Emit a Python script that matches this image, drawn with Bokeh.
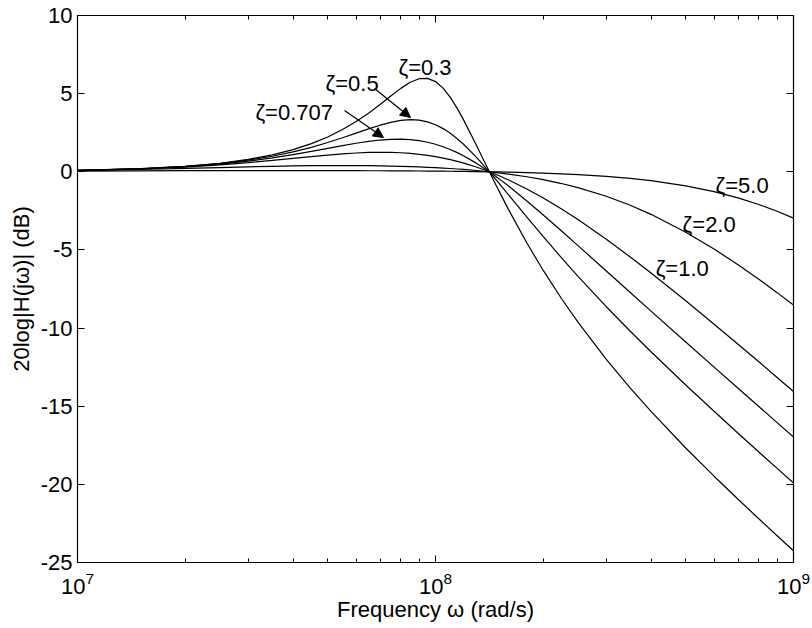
from bokeh.plotting import figure
from bokeh.models import (Range1d, FixedTicker, LogAxis, LinearAxis, Label,
                          Arrow, NormalHead, LogTickFormatter)
from bokeh.embed import file_html
from bokeh.resources import INLINE

FONT = "Liberation Sans"
FS = "22px"

# ---------------- data ----------------
freq = [1.0e7, 1.5e7, 2.0e7, 2.5e7, 3.0e7, 3.5e7, 4.0e7, 4.5e7, 5.0e7, 5.5e7,
        6.0e7, 6.5e7, 7.0e7, 7.5e7, 8.0e7, 8.5e7, 9.0e7, 9.5e7, 1.0e8, 1.05e8,
        1.1e8, 1.15e8, 1.2e8, 1.3e8, 1.414e8, 1.5e8, 1.6e8, 1.8e8, 2.0e8, 2.25e8,
        2.5e8, 3.0e8, 3.5e8, 4.0e8, 5.0e8, 6.0e8, 7.0e8, 8.0e8, 9.0e8, 1.0e9]

db_z03 = [0.087, 0.196, 0.349, 0.547, 0.791, 1.081, 1.417, 1.800, 2.229, 2.701,
          3.212, 3.752, 4.306, 4.847, 5.337, 5.726, 5.956, 5.979, 5.772, 5.351,
          4.761, 4.056, 3.289, 1.712, 0.0, -1.175, -2.421, -4.555, -6.313, -8.124,
          -9.625, -12.003, -13.840, -15.332, -17.672, -19.478, -20.954, -22.203, -23.288, -24.247]
db_z05 = [0.086, 0.193, 0.340, 0.526, 0.745, 0.996, 1.271, 1.566, 1.871, 2.177,
          2.473, 2.745, 2.981, 3.165, 3.286, 3.333, 3.303, 3.193, 3.010, 2.762,
          2.461, 2.117, 1.743, 0.941, 0.0, -0.693, -1.470, -2.895, -4.150, -5.511,
          -6.688, -8.633, -10.202, -11.516, -13.639, -15.325, -16.727, -17.928, -18.978, -19.914]
db_z0707 = [0.085, 0.189, 0.327, 0.495, 0.684, 0.887, 1.096, 1.302, 1.498, 1.674,
            1.826, 1.947, 2.032, 2.080, 2.088, 2.059, 1.992, 1.892, 1.761, 1.604,
            1.424, 1.225, 1.012, 0.553, 0.0, -0.423, -0.914, -1.867, -2.762, -3.791,
            -4.724, -6.351, -7.726, -8.914, -10.890, -12.496, -13.850, -15.019, -16.049, -16.969]
db_z10 = [0.084, 0.181, 0.304, 0.443, 0.587, 0.728, 0.859, 0.975, 1.072, 1.148,
          1.203, 1.237, 1.249, 1.242, 1.218, 1.176, 1.120, 1.051, 0.969, 0.877,
          0.776, 0.667, 0.552, 0.304, 0.0, -0.238, -0.521, -1.098, -1.675, -2.379,
          -3.057, -4.318, -5.455, -6.480, -8.256, -9.751, -11.035, -12.159, -13.158, -14.055]
db_z20 = [0.075, 0.145, 0.213, 0.271, 0.317, 0.351, 0.375, 0.390, 0.398, 0.400,
          0.397, 0.390, 0.380, 0.366, 0.350, 0.331, 0.311, 0.288, 0.263, 0.237,
          0.209, 0.179, 0.148, 0.082, 0.0, -0.066, -0.146, -0.318, -0.504, -0.752,
          -1.014, -1.567, -2.142, -2.722, -3.863, -4.943, -5.948, -6.876, -7.733, -8.526]
db_z50 = [0.043, 0.060, 0.069, 0.073, 0.075, 0.076, 0.076, 0.075, 0.074, 0.072,
          0.070, 0.067, 0.065, 0.062, 0.059, 0.055, 0.051, 0.047, 0.043, 0.039,
          0.034, 0.029, 0.024, 0.013, 0.0, -0.011, -0.024, -0.053, -0.086, -0.131,
          -0.180, -0.294, -0.423, -0.569, -0.899, -1.271, -1.673, -2.095, -2.528, -2.966]

series = [db_z03, db_z05, db_z0707, db_z10, db_z20, db_z50]

x_ticks = [1e7, 1e8, 1e9]
x_minor = [m * d for d in (1e7, 1e8) for m in range(2, 10)]
y_ticks = [-25, -20, -15, -10, -5, 0, 5, 10]
y_tick_labels = ["-25", "-20", "-15", "-10", "-5", "0", "5", "10"]

x_label = "Frequency \u03c9 (rad/s)"
y_label = "20log|H(j\u03c9)| (dB)"

# ---------------- figure ----------------
p = figure(width=812, height=628, x_axis_type="log",
           x_range=Range1d(1e7, 1e9), y_range=Range1d(-25, 10),
           output_backend="svg", toolbar_location=None,
           min_border_left=77, min_border_right=19,
           min_border_top=15, min_border_bottom=66)
p.grid.visible = False
p.outline_line_color = "black"
p.outline_line_width = 1.2
p.background_fill_color = "white"
p.border_fill_color = "white"

def hide_labels(ax):
    ax.major_label_text_font_size = "1px"
    ax.major_label_text_alpha = 0
    ax.major_label_standoff = 0

def style_x(ax):
    ax.ticker = FixedTicker(ticks=x_ticks, minor_ticks=x_minor)
    ax.major_tick_in = 7
    ax.major_tick_out = 0
    ax.minor_tick_in = 4
    ax.minor_tick_out = 0
    ax.axis_line_color = "black"
    ax.major_tick_line_color = "black"
    ax.minor_tick_line_color = "black"

xax = p.xaxis[0]
style_x(xax)
xax.formatter = LogTickFormatter()
xax.major_label_text_font = FONT
xax.major_label_text_font_size = FS
xax.major_label_text_color = "black"
xax.major_label_standoff = 9
xax.axis_label = x_label
xax.axis_label_text_font = FONT
xax.axis_label_text_font_size = FS
xax.axis_label_text_font_style = "normal"
xax.axis_label_text_color = "black"
xax.axis_label_standoff = 0

top_ax = LogAxis()
style_x(top_ax)
hide_labels(top_ax)
p.add_layout(top_ax, "above")

yax = p.yaxis[0]
yax.ticker = FixedTicker(ticks=y_ticks, minor_ticks=[])
yax.major_label_overrides = {t: s for t, s in zip(y_ticks, y_tick_labels)}
yax.major_tick_in = 7
yax.major_tick_out = 0
yax.minor_tick_in = 0
yax.minor_tick_out = 0
yax.major_label_standoff = 5
yax.major_label_text_font = FONT
yax.major_label_text_font_size = FS
yax.major_label_text_color = "black"
yax.axis_line_color = "black"
yax.axis_label = y_label
yax.axis_label_text_font = FONT
yax.axis_label_text_font_size = FS
yax.axis_label_text_font_style = "normal"
yax.axis_label_text_color = "black"
yax.axis_label_standoff = 4

right_ax = LinearAxis()
right_ax.ticker = FixedTicker(ticks=y_ticks, minor_ticks=[])
right_ax.major_tick_in = 7
right_ax.major_tick_out = 0
right_ax.minor_tick_in = 0
right_ax.minor_tick_out = 0
right_ax.axis_line_color = "black"
hide_labels(right_ax)
p.add_layout(right_ax, "right")

for s in series:
    p.line(freq, s, line_color="black", line_width=1.2)

# curve annotations
def ann(x, y, t):
    p.add_layout(Label(x=x, y=y, text=t, text_align="left",
                       text_baseline="alphabetic", text_font=FONT,
                       text_font_size=FS, text_color="black"))

ann(7.88e7, 6.65, "\u03b6=0.3")
ann(4.93e7, 5.65, "\u03b6=0.5")
ann(3.14e7, 3.81, "\u03b6=0.707")
ann(6.055e8, -0.88, "\u03b6=5.0")
ann(4.90e8, -3.39, "\u03b6=2.0")
ann(4.12e8, -6.21, "\u03b6=1.0")

def arrow(x0, y0, x1, y1):
    p.add_layout(Arrow(x_start=x0, y_start=y0, x_end=x1, y_end=y1,
                       line_color="black", line_width=1.2,
                       end=NormalHead(size=10, fill_color="black",
                                      line_color="black", line_width=1)))

arrow(6.755e7, 5.33, 8.515e7, 3.47)
arrow(5.57e7, 3.92, 7.155e7, 2.19)

open("out.html", "w").write(file_html(p, INLINE))
